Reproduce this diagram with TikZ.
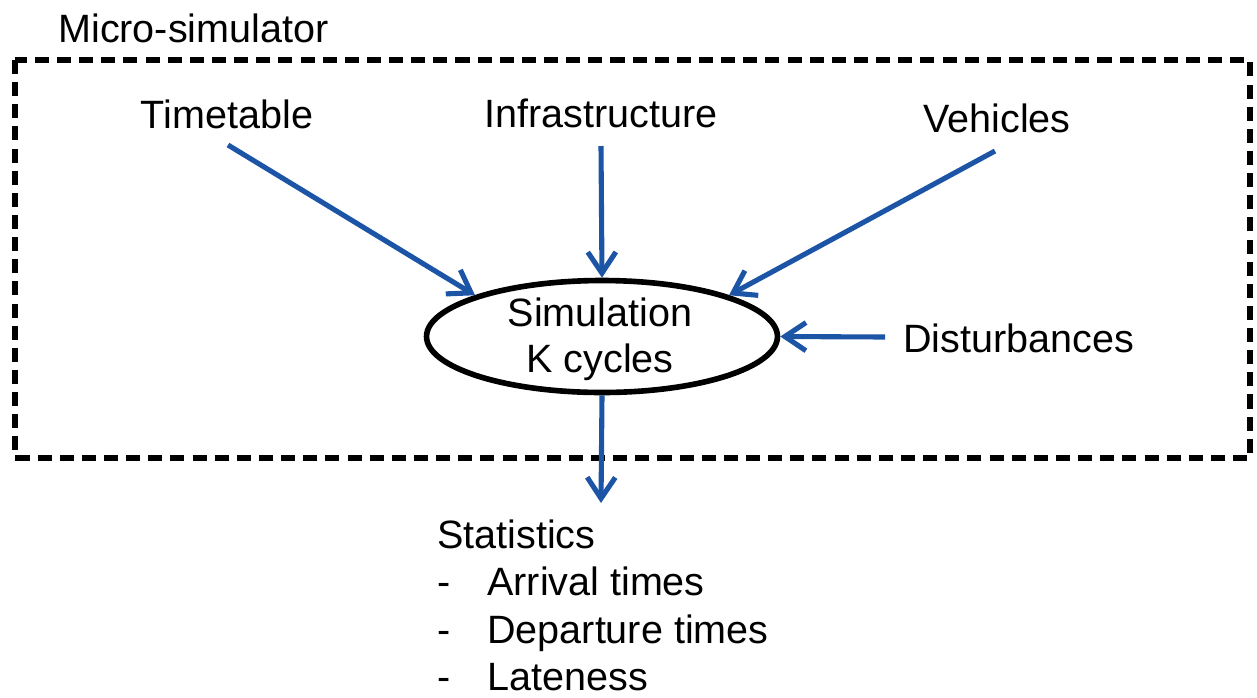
\documentclass[tikz,border=0pt]{standalone}
\usepackage{fontspec}
\setmainfont{Liberation Sans}
\usetikzlibrary{arrows.meta,shapes.geometric}
\definecolor{arrowblue}{RGB}{28,84,166}
\begin{document}
\begin{tikzpicture}[x=0.02cm,y=-0.02cm,
  txt/.style={font=\fontsize{22.5pt}{27pt}\selectfont, inner sep=0pt, text=black},
  arr/.style={draw=arrowblue, line width=2.9pt, -{Straight Barb[length=12pt,width=16pt]}},
  frame/.style={draw=black, line width=2.9pt, dash pattern=on 8pt off 4.6pt},
  simnode/.style={draw=black, line width=3.2pt, ellipse, minimum width=7.02cm, minimum height=2.24cm, inner sep=0pt}]
\useasboundingbox (0,0) rectangle (1257,697);
\draw[frame] (15,60) rectangle (1250,458);
\node[txt,anchor=base west] (micro) at (58,42) {Micro-simulator};
\node[txt,anchor=base] (tt) at (227,128) {Timetable};
\node[txt,anchor=base] (inf) at (601,127) {Infrastructure};
\node[txt,anchor=base] (veh) at (997,132) {Vehicles};
\node[txt,anchor=base west] (dist) at (903,352) {Disturbances};
\node[simnode] (sim) at (602,336.5) {};
\node[txt,anchor=base] (simA) at (600,326) {Simulation};
\node[txt,anchor=base] (simB) at (600,372) {K cycles};
\node[txt,anchor=base west] (stat) at (437,548) {Statistics};
\node[txt,anchor=base west] (d1) at (437,595) {-};
\node[txt,anchor=base west] (d2) at (437,643) {-};
\node[txt,anchor=base west] (d3) at (437,690) {-};
\node[txt,anchor=base west] (i1) at (487,595) {Arrival times};
\node[txt,anchor=base west] (i2) at (487,643) {Departure times};
\node[txt,anchor=base west] (i3) at (487,690) {Lateness};
\coordinate (ttS) at (228,145);
\coordinate (infS) at (601,146);
\coordinate (vehS) at (995,151);
\coordinate (distS) at (885,337);
\coordinate (statT) at (601,503);
\draw[arr] (ttS) -- (sim.162);
\draw[arr] (infS) -- (sim.north);
\draw[arr] (vehS) -- (sim.18);
\draw[arr] (distS) -- (sim.east);
\draw[arr] (sim.south) -- (statT);
\end{tikzpicture}
\end{document}
